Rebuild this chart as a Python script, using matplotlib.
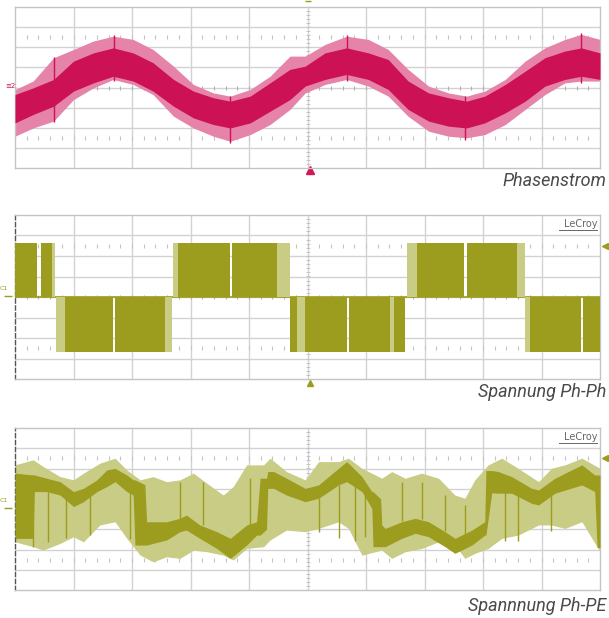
import numpy as np
import matplotlib
matplotlib.use('Agg')
import matplotlib.pyplot as plt

# ---- Phasenstrom (values in scope divisions) ----
x1 = [0, 0.31, 0.66, 1.0, 1.34, 1.68, 2.02, 2.36, 2.71, 3.05, 3.39, 3.68, 4.02, 4.36, 4.70,
      4.96, 5.30, 5.67, 6.04, 6.38, 6.72, 7.07, 7.41, 7.72, 8.03, 8.38, 8.72, 9.06, 9.40, 9.68, 10.0]
i_outer_top = [-0.10, 0.32, 1.48, 1.89, 2.31, 2.55, 2.39, 1.89, 1.06, 0.15, -0.27, -0.43, -0.10, 0.56, 1.56,
               1.56, 2.14, 2.55, 2.39, 1.89, 0.90, 0.07, -0.27, -0.43, -0.18, 0.40, 1.31, 1.97, 2.39, 2.64, 2.39]
i_inner_top = [-0.35, -0.02, 0.40, 1.31, 1.72, 1.97, 1.72, 1.23, 0.40, -0.18, -0.51, -0.68, -0.43, 0.23, 0.90,
               1.06, 1.72, 1.97, 1.72, 1.39, 0.32, -0.27, -0.51, -0.68, -0.43, 0.15, 0.81, 1.48, 1.81, 1.97, 1.72]
i_inner_bot = [-1.76, -1.34, -0.93, -0.18, 0.23, 0.56, 0.32, -0.18, -0.93, -1.51, -1.84, -2.01, -1.76, -1.18, -0.60,
               0.07, 0.40, 0.65, 0.40, -0.10, -1.09, -1.67, -1.92, -2.01, -1.76, -1.26, -0.68, 0.07, 0.40, 0.56, 0.40]
i_outer_bot = [-2.42, -2.01, -1.67, -0.60, -0.02, 0.40, 0.15, -0.35, -1.43, -2.01, -2.42, -2.67, -2.34, -1.84, -1.09,
               -0.27, 0.15, 0.40, 0.07, -0.43, -1.43, -2.17, -2.42, -2.50, -2.34, -1.84, -1.09, -0.35, 0.23, 0.32, 0.32]
# single switching spikes visible in the current trace
i_spike_x = [0.66, 1.70, 3.68, 5.67, 7.70, 9.68]
i_spike_lo = [-1.7, 0.3, -2.75, 0.3, -2.6, 0.2]
i_spike_hi = [1.5, 2.6, -0.4, 2.6, -0.4, 2.7]

# ---- Spannung Ph-Ph: PWM blocks (start, end, level) ----
pp_dark_start = [0.0, 0.44, 0.85, 1.71, 2.79, 3.71, 4.70, 4.96, 5.71, 6.48, 6.87, 7.73, 8.80, 9.71]
pp_dark_end = [0.38, 0.63, 1.68, 2.56, 3.68, 4.48, 4.82, 5.68, 6.41, 6.67, 7.68, 8.58, 9.68, 10.0]
pp_dark_level = [2.65, 2.65, -2.7, -2.7, 2.65, 2.65, -2.7, -2.7, -2.7, -2.7, 2.65, 2.65, -2.7, -2.7]
pp_light_start = [0.63, 0.70, 2.56, 2.70, 4.48, 4.82, 6.41, 6.70, 8.58, 8.72]
pp_light_end = [0.68, 0.85, 2.68, 2.79, 4.70, 4.96, 6.48, 6.87, 8.72, 8.80]
pp_light_level = [2.65, -2.7, -2.7, 2.65, 2.65, -2.7, -2.7, 2.65, 2.65, -2.7]

# ---- Spannnung Ph-PE ----
x3_env = [0, 0.31, 0.48, 0.77, 1.0, 1.17, 1.45, 1.71, 1.91, 2.14, 2.36, 2.59, 2.82, 3.05, 3.28, 3.56, 3.73,
          3.96, 4.25, 4.36, 4.64, 4.96, 5.19, 5.53, 5.70, 5.93, 6.27, 6.44, 6.67, 6.95, 7.24, 7.52, 7.69,
          7.86, 8.09, 8.32, 8.60, 8.95, 9.17, 9.40, 9.69, 10.0]
pe_env_top = [2.18, 2.43, 2.10, 1.60, 1.44, 1.77, 2.26, 2.51, 1.93, 1.44, 1.60, 1.35, 1.44, 1.77, 1.27, 0.69, 1.11,
              2.18, 2.18, 2.51, 1.85, 1.44, 2.34, 2.34, 2.51, 2.01, 1.52, 1.85, 1.52, 1.77, 1.52, 0.69, 0.53,
              1.44, 2.18, 2.51, 2.01, 1.35, 2.01, 2.18, 2.51, 2.01]
pe_env_bot = [-1.62, -1.86, -2.03, -1.70, -1.37, -1.62, -0.79, -0.63, -1.45, -2.28, -2.61, -2.36, -2.44, -2.03,
              -2.11, -2.28, -2.52, -1.95, -1.86, -1.53, -1.04, -1.12, -0.96, -0.63, -0.96, -2.28, -2.03, -2.44,
              -2.11, -1.95, -1.62, -1.78, -2.44, -2.19, -1.95, -1.45, -1.29, -0.79, -0.79, -0.96, -0.63, -2.11]

x3_band = [0.0, 0.31, 0.33, 0.54, 0.77, 1.0, 1.17, 1.40, 1.57, 1.71, 1.91, 2.02, 2.05, 2.22, 2.25, 2.59,
           2.82, 2.93, 3.16, 3.45, 3.68, 3.96, 4.13, 4.19, 4.30, 4.32, 4.42, 4.64, 4.96, 5.19, 5.53, 5.67,
           5.93, 6.10, 6.12, 6.25, 6.27, 6.33, 6.61, 6.84, 7.07, 7.35, 7.52, 7.81, 8.03, 8.05, 8.15, 8.26,
           8.49, 8.83, 8.95, 9.23, 9.69, 9.91, 9.95, 10.0]
pe_band_top = [1.77, 1.68, 1.68, 1.52, 1.35, 0.86, 1.02, 1.44, 1.93, 2.01, 1.68, 1.44, 1.44, 1.20, -0.63, -0.63,
               -0.46, -0.30, -0.79, -1.12, -1.45, -0.79, -0.63, 1.52, 1.52, 1.85, 1.85, 1.52, 1.02, 1.19, 2.01,
               2.34, 1.60, 0.86, 0.86, 0.50, -0.79, -0.96, -0.63, -0.46, -0.63, -1.12, -1.45, -1.04, -0.63, 1.90,
               1.90, 1.85, 1.60, 1.02, 0.94, 1.52, 2.18, 1.68, 1.68, 1.68]
pe_band_bot = [-1.45, -1.45, 0.86, 0.86, 0.69, 0.12, 0.36, 0.86, 1.11, 1.35, 0.86, 0.69, -1.78, -1.78, -1.78,
               -1.53, -1.12, -1.04, -1.45, -1.95, -2.44, -1.78, -1.29, -1.29, -1.00, 1.02, 1.02, 0.69, 0.36,
               0.53, 1.19, 1.35, 0.86, 0.03, -1.86, -1.86, -1.86, -1.86, -1.45, -1.20, -1.37, -1.86, -2.19,
               -1.78, -1.29, -1.29, 0.80, 0.78, 0.78, 0.28, 0.20, 0.78, 1.19, 0.86, -1.90, -1.90]
# thin dark switching lines inside the light envelope
pe_spike_x = [0.31, 0.57, 0.88, 1.28, 1.97, 2.82, 3.22, 4.02, 5.19, 5.53, 5.81, 5.99, 6.61, 6.95, 7.35, 7.69, 8.38, 8.60, 9.17]
pe_spike_lo = [-1.86, -1.62, -1.45, -1.29, -1.5, -0.5, -0.8, -0.8, -1.12, -1.45, -1.6, -1.4, -0.6, -0.5, -1.1, -1.6, -1.6, -1.6, -1.1]
pe_spike_hi = [1.68, 0.86, 0.69, 0.86, 1.4, 1.35, 1.35, 1.52, 0.53, 1.19, 1.35, 1.2, 1.35, 1.35, 0.69, 0.20, 0.86, 0.69, 0.69]

titles = ['Phasenstrom', 'Spannung Ph-Ph', 'Spannnung Ph-PE']

PINK_D, PINK_L = '#CC1155', '#E583A8'
OLIVE_D, OLIVE_L = '#9C9C1E', '#C9CC85'
GRID = '#D2D2D2'

fig = plt.figure(figsize=(6.09, 6.18), dpi=100)
fig.patch.set_facecolor('white')

W = 609.0
H = 618.0
boxes = [(7, 168), (215, 379), (428, 590)]
axes = []
for top, bot in boxes:
    ax = fig.add_axes([15 / W, 1 - bot / H, 585 / W, (bot - top) / H])
    ax.set_xlim(0, 10)
    ax.set_ylim(-4, 4)
    ax.set_xticks([])
    ax.set_yticks([])
    for v in range(1, 10):
        ax.axvline(v, color=GRID, lw=1.0, zorder=0)
    for h in range(-3, 4):
        ax.axhline(h, color=GRID, lw=1.0, zorder=0)
    tx = np.arange(0, 10.01, 0.2)
    for lev in (2.5, -2.5):
        ax.plot(tx, np.full_like(tx, lev), ls='none', marker='|', ms=2.5, mew=0.8, color='#C4C4C4', zorder=0)
    ax.plot(tx, np.zeros_like(tx), ls='none', marker='|', ms=3.5, mew=0.8, color='#B0B0B0', zorder=0)
    ty = np.arange(-4, 4.01, 0.2)
    ax.plot(np.full_like(ty, 5), ty, ls='none', marker='_', ms=3, mew=0.7, color='#C4C4C4', zorder=0)
    for s in ax.spines.values():
        s.set_color('#C4C4C4')
        s.set_linewidth(1.0)
    axes.append(ax)

# panel 1
ax = axes[0]
ax.fill_between(x1, i_outer_bot, i_outer_top, color=PINK_L, lw=0, zorder=2)
ax.fill_between(x1, i_inner_bot, i_inner_top, color=PINK_D, lw=0, zorder=3)
ax.vlines(i_spike_x, i_spike_lo, i_spike_hi, color=PINK_D, lw=1.0, zorder=3)
ax.plot(5.05, -4.1, marker='^', color='#D6145A', ms=6, clip_on=False)
ax.plot(5.0, 4.3, marker='_', color=OLIVE_D, ms=5, clip_on=False)
fig.text(10 / W, 1 - 86 / H, '≡2', color=PINK_D, fontsize=5, ha='center', va='center')

# panel 2
ax = axes[1]
ax.axhline(0, color=OLIVE_D, lw=1.2, zorder=1)
ax.bar(pp_light_start, pp_light_level, width=np.subtract(pp_light_end, pp_light_start),
       align='edge', color=OLIVE_L, lw=0, zorder=2)
ax.bar(pp_dark_start, pp_dark_level, width=np.subtract(pp_dark_end, pp_dark_start),
       align='edge', color=OLIVE_D, lw=0, zorder=3)

# panel 3
ax = axes[2]
ax.fill_between(x3_env, pe_env_bot, pe_env_top, color=OLIVE_L, lw=0, zorder=2)
ax.vlines(pe_spike_x, pe_spike_lo, pe_spike_hi, color=OLIVE_D, lw=1.0, zorder=3)
ax.fill_between(x3_band, pe_band_bot, pe_band_top, color=OLIVE_D, lw=0, zorder=3)

for ax in axes[1:]:
    ax.spines['left'].set_color('#555555')
    ax.spines['left'].set_linestyle((0, (3, 2)))
    ax.text(9.95, 3.55, 'LeCroy', ha='right', va='center', fontsize=7, color='#666666')
    ax.plot([9.3, 9.95], [3.25, 3.25], color='#666666', lw=0.7)
    ax.plot(10.08, 2.5, marker='<', color=OLIVE_D, ms=4, clip_on=False)
    ax.plot(-0.12, 0.05, marker='_', color=OLIVE_D, ms=6, clip_on=False)
    ax.text(-0.2, 0.4, 'C1', ha='center', va='center', fontsize=4.5, color=OLIVE_D)
axes[1].plot(5.05, -4.2, marker='^', color=OLIVE_D, ms=5, clip_on=False)

fam = ['Roboto', 'DejaVu Sans']
title_y = [181, 392, 606]
for t, yy in zip(titles, title_y):
    fig.text(606 / W, 1 - yy / H, t, ha='right', va='center', fontsize=13,
             style='italic', color='#4A4A4A', family=fam)

fig.savefig('out.png', dpi=100, facecolor='white')
